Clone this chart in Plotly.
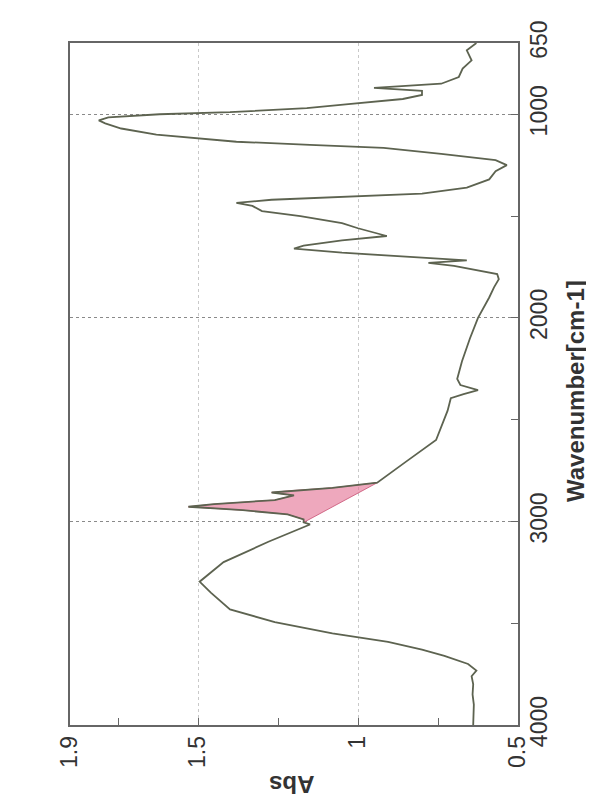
import plotly.graph_objects as go

# Spectrum read from the (rotated) scanned chart
wavenumber = [650, 686, 735, 776, 817, 850, 870, 885, 905, 925, 950, 970, 990, 1000, 1015, 1030,
              1045, 1070, 1100, 1120, 1135, 1150, 1165, 1195, 1225, 1250, 1280, 1320, 1360, 1390,
              1405, 1420, 1435, 1450, 1476, 1500, 1535, 1560, 1598, 1620, 1645, 1660, 1680, 1700,
              1718, 1730, 1745, 1785, 1810, 1850, 1900, 2000, 2100, 2213, 2300, 2330, 2355, 2375,
              2395, 2456, 2600, 2710, 2810, 2835, 2850, 2858, 2872, 2895, 2915, 2928, 2945, 2965,
              2990, 3005, 3015, 3040, 3100, 3200, 3296, 3350, 3432, 3495, 3550, 3592, 3630, 3660,
              3700, 3733, 3760, 3800, 3850, 3900, 3950, 4000]
absorbance = [0.63, 0.66, 0.645, 0.673, 0.685, 0.74, 0.95, 0.80, 0.80, 0.86, 1.03, 1.16, 1.40, 1.62, 1.78, 1.81,
              1.79, 1.74, 1.63, 1.50, 1.38, 1.15, 0.92, 0.74, 0.57, 0.535, 0.57, 0.59, 0.66, 0.80,
              1.03, 1.27, 1.38, 1.33, 1.30, 1.18, 1.05, 1.00, 0.91, 1.05, 1.17, 1.20, 1.05, 0.85,
              0.66, 0.78, 0.70, 0.565, 0.56, 0.575, 0.59, 0.625, 0.65, 0.675, 0.69, 0.68, 0.625, 0.67,
              0.71, 0.72, 0.756, 0.853, 0.94, 1.08, 1.22, 1.27, 1.20, 1.26, 1.45, 1.53, 1.36, 1.22,
              1.17, 1.17, 1.15, 1.19, 1.28, 1.42, 1.495, 1.46, 1.40, 1.26, 1.08, 0.906, 0.80, 0.73,
              0.656, 0.63, 0.645, 0.64, 0.642, 0.638, 0.64, 0.64]

# integrated peak region (C-H stretch)
peak_start, peak_end = 2810, 3005

wn_ticks = [650, 1000, 2000, 3000, 4000]
wn_ticktext = ["650", "1000", "2000", "3000", "4000"]
abs_ticks = [0.5, 1, 1.5, 1.9]
abs_ticktext = ["0.5", "1", "1.5", "1.9"]

FONT = "Liberation Sans, Arial, sans-serif"
LINE = "#5d6350"

region_wn = [w for w in wavenumber if peak_start <= w <= peak_end]
region_abs = [a for w, a in zip(wavenumber, absorbance) if peak_start <= w <= peak_end]

fig = go.Figure()
fig.add_trace(go.Scatter(
    x=region_abs + [region_abs[0]], y=region_wn + [region_wn[0]],
    mode="lines", fill="toself", fillcolor="rgba(226,110,145,0.6)",
    line=dict(color="rgba(200,80,115,0.8)", width=1), hoverinfo="skip", showlegend=False))
fig.add_trace(go.Scatter(
    x=absorbance, y=wavenumber, mode="lines",
    line=dict(color=LINE, width=1.8), showlegend=False))

fig.update_xaxes(
    range=[1.9, 0.5], tickvals=abs_ticks, ticktext=abs_ticktext, tickangle=-90,
    ticks="inside", ticklen=7, tickcolor="#666", tickfont=dict(family=FONT, size=23, color="#333"),
    showline=True, linecolor="#666", linewidth=1.5, mirror=True,
    showgrid=True, gridcolor="#c9c9c9", griddash="dot", gridwidth=1, zeroline=False,
    minor=dict(tick0=0.5, dtick=0.25, ticks="inside", ticklen=7, tickcolor="#666", showgrid=False),
)
fig.update_yaxes(
    range=[4000, 650], side="right", tickvals=wn_ticks, ticktext=wn_ticktext, tickangle=-90,
    ticks="inside", ticklen=7, tickcolor="#666", tickfont=dict(family=FONT, size=23, color="#333"),
    showline=True, linecolor="#666", linewidth=1.5, mirror=True,
    showgrid=True, gridcolor="#8a8a8a", griddash="dot", gridwidth=1, zeroline=False,
    minor=dict(tick0=500, dtick=500, ticks="inside", ticklen=7, tickcolor="#666", showgrid=False),
)

fig.add_annotation(text="<b>Wavenumber[cm-1]</b>", xref="paper", yref="paper", x=1.13, y=0.49,
                   textangle=-90, showarrow=False, font=dict(family=FONT, size=24, color="#333"),
                   xanchor="center", yanchor="middle", borderpad=0)
fig.add_annotation(text="<b>Abs</b>", xref="paper", yref="paper", x=0.496, y=-0.088,
                   textangle=180, showarrow=False, font=dict(family=FONT, size=24, color="#333"),
                   xanchor="center", yanchor="middle", borderpad=0)

fig.update_layout(
    width=594, height=805, margin=dict(l=62, r=84, t=29, b=88),
    paper_bgcolor="white", plot_bgcolor="white", font=dict(family=FONT),
)
fig.write_html("out.html")
